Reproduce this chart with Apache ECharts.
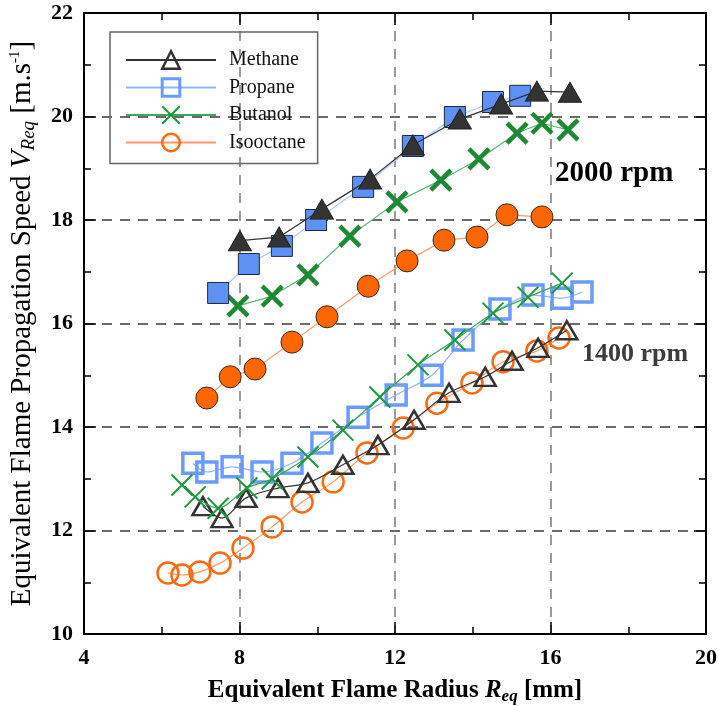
<!DOCTYPE html>
<html>
<head>
<meta charset="utf-8">
<script src="https://cdn.jsdelivr.net/npm/echarts@6/dist/echarts.min.js"></script>
<style>html,body{margin:0;padding:0;background:#fff;}#c{width:719px;height:706px;}</style>
</head>
<body>
<div id="c"></div>
<script>
// ---- data ----
const xTicks = [4, 8, 12, 16, 20];
const yTicks = [10, 12, 14, 16, 18, 20, 22];
const fuels = ['Methane', 'Propane', 'Butanol', 'Isooctane'];
const speedLabels = ['2000 rpm', '1400 rpm'];

const methane2000X = [8.01, 9.02, 10.12, 11.36, 12.46, 13.67, 14.73, 15.65, 16.5];
const methane2000Y = [17.6, 17.67, 18.21, 18.79, 19.45, 19.95, 20.24, 20.49, 20.47];
const propane2000X = [7.45, 8.24, 9.09, 9.97, 11.18, 12.46, 13.54, 14.52, 15.22];
const propane2000Y = [16.59, 17.15, 17.50, 18.00, 18.64, 19.43, 19.99, 20.28, 20.40];
const butanol2000X = [7.96, 8.84, 9.76, 10.84, 12.05, 13.18, 14.16, 15.14, 15.78, 16.45];
const butanol2000Y = [16.34, 16.53, 16.94, 17.69, 18.35, 18.77, 19.18, 19.68, 19.87, 19.74];
const isooctane2000X = [7.16, 7.76, 8.40, 9.35, 10.25, 11.31, 12.31, 13.26, 14.11, 14.88, 15.78];
const isooctane2000Y = [14.56, 14.97, 15.12, 15.64, 16.13, 16.72, 17.21, 17.61, 17.67, 18.10, 18.06];

const methane1400X = [7.06, 7.55, 8.17, 8.99, 9.76, 10.66, 11.56, 12.49, 13.39, 14.32, 15.01, 15.68, 16.42];
const methane1400Y = [12.47, 12.24, 12.63, 12.82, 12.92, 13.27, 13.65, 14.14, 14.66, 14.97, 15.28, 15.53, 15.87];
const propane1400X = [6.80, 7.16, 7.81, 8.58, 9.35, 10.12, 11.05, 12.03, 12.95, 13.75, 14.70, 15.55, 16.30, 16.81];
const propane1400Y = [13.30, 13.13, 13.23, 13.13, 13.30, 13.69, 14.19, 14.62, 15.00, 15.68, 16.28, 16.55, 16.49, 16.61];
const butanol1400X = [6.52, 6.86, 7.45, 8.19, 8.84, 9.76, 10.66, 11.61, 12.59, 13.54, 14.52, 15.42, 16.30];
const butanol1400Y = [12.88, 12.65, 12.43, 12.82, 13.00, 13.42, 13.94, 14.58, 15.20, 15.68, 16.20, 16.51, 16.78];
const isooctane1400X = [6.16, 6.52, 6.98, 7.50, 8.09, 8.84, 9.61, 10.41, 11.28, 12.21, 13.08, 13.98, 14.78, 15.65, 16.22];
const isooctane1400Y = [11.18, 11.14, 11.20, 11.37, 11.66, 12.07, 12.55, 12.94, 13.50, 13.98, 14.46, 14.85, 15.26, 15.47, 15.72];

// ---- helpers ----
const zip = (xs, ys) => xs.map((x, i) => [x, ys[i]]);
const SERIF = '"Liberation Serif", "Times New Roman", serif';
const XPATH = 'path://M0,0L10,10M10,0L0,10';

function axisBase(show) {
  return {
    axisLine: { show: true, onZero: false, lineStyle: { color: '#000', width: 2 } },
    axisTick: { show: true, inside: true, length: 12, lineStyle: { color: '#000', width: 1.5 } },
    minorTick: { show: true, splitNumber: 2, length: 7, lineStyle: { color: '#000', width: 1.5 } },
    axisLabel: { show: show, color: '#000', fontFamily: SERIF, fontWeight: 'bold', fontSize: 22 }
  };
}

const xStep = xTicks[1] - xTicks[0];
const yStep = yTicks[1] - yTicks[0];

const chart = echarts.init(document.getElementById('c'), null, { renderer: 'canvas' });

const option = {
  animation: false,
  backgroundColor: '#fff',
  grid: { left: 84, right: 13, top: 13, bottom: 72, containLabel: false, outerBoundsMode: 'none' },
  xAxis: [
    Object.assign(axisBase(true), {
      type: 'value', position: 'bottom', min: xTicks[0], max: xTicks[xTicks.length - 1], interval: xStep,
      axisLabel: Object.assign(axisBase(true).axisLabel, { margin: 13 }),
      splitLine: { show: true, showMinLine: false, showMaxLine: false, lineStyle: { color: '#7a7a7a', type: [10, 8], width: 1.5 } },
      name: '{a|Equivalent Flame Radius }{i|R}{s|eq}{a| [mm]}',
      nameLocation: 'middle', nameGap: 42,
      nameTextStyle: {
        rich: {
          a: { fontFamily: SERIF, fontWeight: 'bold', fontSize: 25, color: '#000' },
          i: { fontFamily: SERIF, fontWeight: 'bold', fontStyle: 'italic', fontSize: 25, color: '#000' },
          s: { fontFamily: SERIF, fontWeight: 'bold', fontStyle: 'italic', fontSize: 17, color: '#000', padding: [12, 0, 0, 0] }
        }
      }
    }),
    Object.assign(axisBase(false), {
      type: 'value', position: 'top', min: xTicks[0], max: xTicks[xTicks.length - 1], interval: xStep,
      splitLine: { show: false }
    })
  ],
  yAxis: [
    Object.assign(axisBase(true), {
      type: 'value', position: 'left', min: yTicks[0], max: yTicks[yTicks.length - 1], interval: yStep,
      axisLabel: Object.assign(axisBase(true).axisLabel, { margin: 11 }),
      splitLine: { show: true, showMinLine: false, showMaxLine: false, lineStyle: { color: '#3a3a3a', type: [10, 8], width: 1.5 } },
      name: '{a|Equivalent Flame Propagation Speed }{i|V}{s|Req}{a| [m.s}{p|-1}{a|]}',
      nameLocation: 'middle', nameGap: 46,
      nameTextStyle: {
        rich: {
          a: { fontFamily: SERIF, fontSize: 29, color: '#000' },
          i: { fontFamily: SERIF, fontStyle: 'italic', fontSize: 29, color: '#000' },
          s: { fontFamily: SERIF, fontStyle: 'italic', fontSize: 19, color: '#000', padding: [13, 0, 0, 0] },
          p: { fontFamily: SERIF, fontSize: 15, color: '#000', padding: [0, 0, 13, 0] }
        }
      }
    }),
    Object.assign(axisBase(false), {
      type: 'value', position: 'right', min: yTicks[0], max: yTicks[yTicks.length - 1], interval: yStep,
      splitLine: { show: false }
    })
  ],
  legend: {
    show: true,
    orient: 'vertical',
    left: 110, top: 32,
    padding: [17, 12, 10, 15],
    itemGap: 5.5,
    itemWidth: 90, itemHeight: 22,
    borderColor: '#666', borderWidth: 1.5,
    selectedMode: false,
    textStyle: { fontFamily: SERIF, fontSize: 20, color: '#111', padding: [0, 0, 0, 8], lineHeight: 22 },
    data: [
      { name: fuels[0], itemStyle: { borderWidth: 2.5 } },
      { name: fuels[1], itemStyle: { borderWidth: 3 } },
      { name: fuels[2], itemStyle: { borderWidth: 2 } },
      { name: fuels[3], itemStyle: { borderWidth: 2.5 } }
    ]
  },
  graphic: [
    { type: 'text', left: 555, top: 159, style: { text: speedLabels[0], font: 'bold 29px ' + SERIF, fill: '#000' } },
    { type: 'text', left: 582, top: 341, style: { text: speedLabels[1], font: 'bold 26px ' + SERIF, fill: '#3c3c3c' } }
  ],
  series: [
    // 1400 rpm (open markers)
    {
      name: fuels[3], type: 'line', data: zip(isooctane1400X, isooctane1400Y), smooth: 0.3,
      symbol: 'circle', symbolSize: 21,
      lineStyle: { color: '#ff9a66', width: 1.2 },
      itemStyle: { color: 'rgba(0,0,0,0)', borderColor: '#ff6a10', borderWidth: 2.5 }, z: 2
    },
    {
      name: fuels[0], type: 'line', data: zip(methane1400X, methane1400Y), smooth: 0.3,
      symbol: 'triangle', symbolSize: [21, 18],
      lineStyle: { color: '#333', width: 1.2 },
      itemStyle: { color: 'rgba(0,0,0,0)', borderColor: '#333', borderWidth: 2.5 }, z: 3
    },
    {
      name: fuels[1], type: 'line', data: zip(propane1400X, propane1400Y), smooth: 0.3,
      symbol: 'rect', symbolSize: 20,
      lineStyle: { color: '#8fb5ff', width: 1.2 },
      itemStyle: { color: 'rgba(0,0,0,0)', borderColor: '#6a9cff', borderWidth: 3.5 }, z: 4
    },
    {
      name: fuels[2], type: 'line', data: zip(butanol1400X, butanol1400Y), smooth: 0.3,
      symbol: XPATH, symbolSize: 21,
      lineStyle: { color: '#3aa856', width: 1.2 },
      itemStyle: { color: 'rgba(0,0,0,0)', borderColor: '#1a9a3a', borderWidth: 2 }, z: 5
    },
    // 2000 rpm (filled markers)
    {
      name: fuels[3] + ' 2000', type: 'line', data: zip(isooctane2000X, isooctane2000Y),
      symbol: 'circle', symbolSize: 22,
      lineStyle: { color: '#ff9a66', width: 1.2 },
      itemStyle: { color: '#ff6600', borderColor: '#3a2a20', borderWidth: 1 }, z: 2
    },
    {
      name: fuels[2] + ' 2000', type: 'line', data: zip(butanol2000X, butanol2000Y),
      symbol: XPATH, symbolSize: 20,
      lineStyle: { color: '#5cb873', width: 1.2 },
      itemStyle: { color: 'rgba(0,0,0,0)', borderColor: '#1b8a33', borderWidth: 4.5 }, z: 3
    },
    {
      name: fuels[1] + ' 2000', type: 'line', data: zip(propane2000X, propane2000Y),
      symbol: 'rect', symbolSize: 21,
      lineStyle: { color: '#a8c6ff', width: 1.2 },
      itemStyle: { color: '#5f91f5', borderColor: '#1f2a40', borderWidth: 1 }, z: 4
    },
    {
      name: fuels[0] + ' 2000', type: 'line', data: zip(methane2000X, methane2000Y),
      symbol: 'triangle', symbolSize: [23, 20],
      lineStyle: { color: '#333', width: 1.2 },
      itemStyle: { color: '#333', borderColor: '#222', borderWidth: 1 }, z: 5
    }
  ]
};
chart.setOption(option);
</script>
</body>
</html>
